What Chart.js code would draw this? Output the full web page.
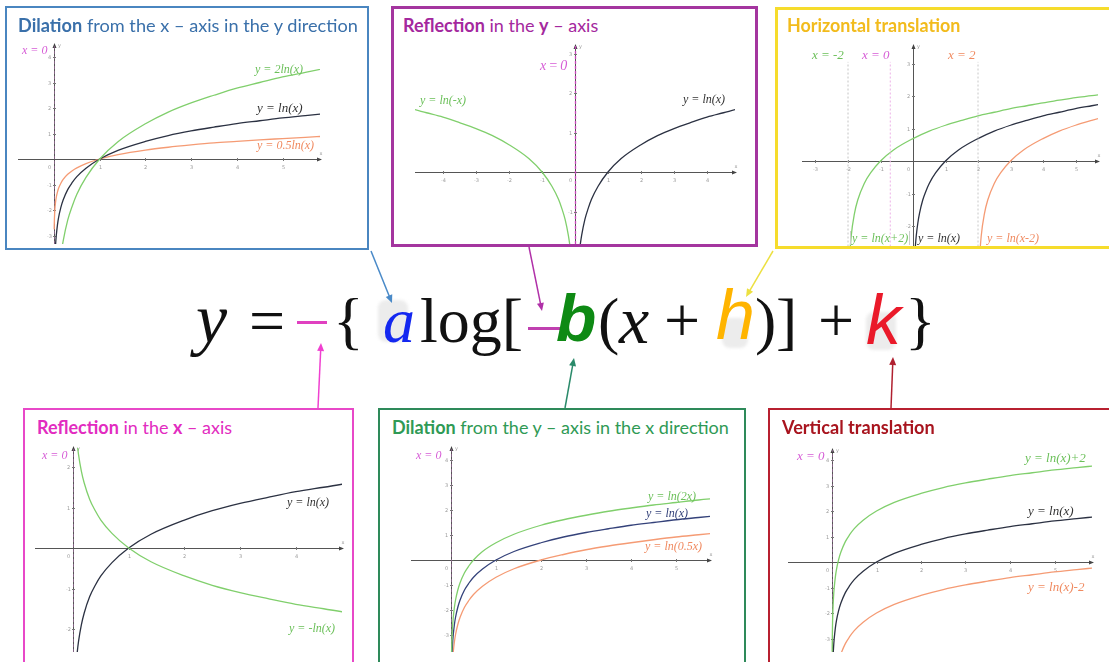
<!DOCTYPE html>
<html>
<head>
<meta charset="utf-8">
<script src="https://cdn.jsdelivr.net/npm/chart.js@4.4.1/dist/chart.umd.min.js"></script>
<style>
  body { margin: 0; background: #fff; }
  #page { position: relative; width: 1109px; height: 662px; overflow: hidden; font-family: Lato, "Open Sans", sans-serif; }
  .panel { position: absolute; box-sizing: border-box; border: 2px solid; background: #fff; }
  .title { position: absolute; font-size: 18px; white-space: nowrap; line-height: 1; transform-origin: left center; }
  .title b { font-weight: 700; }
  canvas.plot { position: absolute; }
  .lbl { position: absolute; font-family: "Liberation Serif", serif; font-style: italic; white-space: nowrap; line-height: 1; transform: translateY(-50%); }
  .eq { position: absolute; font-family: "Liberation Serif", serif; font-size: 64px; line-height: 1; color: #111; }
  .smudge { position: absolute; background: #ececec; border-radius: 8px; filter: blur(1.5px); }
  .bar { position: absolute; height: 3px; }
  svg#links { position: absolute; left: 0; top: 0; pointer-events: none; }
</style>
</head>
<body>
<div id="page"></div>
<script>
// ---- curve samples ----
// x positions (x > 0) used for the ln(x) family
const LN_X = [0.004, 0.006, 0.01, 0.02, 0.035, 0.05, 0.075, 0.1, 0.15, 0.2, 0.3, 0.4, 0.5, 0.7, 1, 1.4, 2, 2.5, 3, 3.5, 4, 4.5, 5, 5.5, 6];
const LN_Y = [-5.52, -5.12, -4.61, -3.91, -3.35, -3.00, -2.59, -2.30, -1.90, -1.61, -1.20, -0.92, -0.69, -0.36, 0, 0.34, 0.69, 0.92, 1.10, 1.25, 1.39, 1.50, 1.61, 1.70, 1.79];
const TWO_LN_Y = [-11.04, -10.24, -9.22, -7.82, -6.70, -6.00, -5.18, -4.60, -3.80, -3.22, -2.40, -1.84, -1.38, -0.72, 0, 0.68, 1.38, 1.84, 2.20, 2.50, 2.78, 3.00, 3.22, 3.40, 3.58];
const HALF_LN_Y = [-2.76, -2.56, -2.30, -1.96, -1.68, -1.50, -1.30, -1.15, -0.95, -0.80, -0.60, -0.46, -0.35, -0.18, 0, 0.17, 0.35, 0.46, 0.55, 0.63, 0.69, 0.75, 0.80, 0.85, 0.90];
const NEG_LN_Y = [5.52, 5.12, 4.61, 3.91, 3.35, 3.00, 2.59, 2.30, 1.90, 1.61, 1.20, 0.92, 0.69, 0.36, 0, -0.34, -0.69, -0.92, -1.10, -1.25, -1.39, -1.50, -1.61, -1.70, -1.79];
const LN_2X_Y = [-4.83, -4.43, -3.92, -3.22, -2.66, -2.31, -1.90, -1.61, -1.21, -0.92, -0.51, -0.23, 0, 0.34, 0.69, 1.03, 1.39, 1.61, 1.79, 1.95, 2.08, 2.20, 2.30, 2.40, 2.48];
const LN_HALF_X_Y = [-6.21, -5.81, -5.30, -4.60, -4.04, -3.69, -3.28, -2.99, -2.59, -2.30, -1.89, -1.61, -1.38, -1.05, -0.69, -0.35, 0, 0.22, 0.41, 0.56, 0.69, 0.81, 0.92, 1.01, 1.10];
const LN_UP2_Y = [-3.52, -3.12, -2.61, -1.91, -1.35, -1.00, -0.59, -0.30, 0.10, 0.39, 0.80, 1.08, 1.31, 1.64, 2, 2.34, 2.69, 2.92, 3.10, 3.25, 3.39, 3.50, 3.61, 3.70, 3.79];
const LN_DOWN2_Y = [-7.52, -7.12, -6.61, -5.91, -5.35, -5.00, -4.59, -4.30, -3.90, -3.61, -3.20, -2.92, -2.69, -2.36, -2, -1.66, -1.31, -1.08, -0.90, -0.75, -0.61, -0.50, -0.39, -0.30, -0.21];

// ln(-x), x < 0
const MIRROR_X = [-6, -5.5, -5, -4.5, -4, -3.5, -3, -2.5, -2, -1.4, -1, -0.7, -0.5, -0.4, -0.3, -0.2, -0.15, -0.1, -0.075, -0.05, -0.035, -0.02, -0.01, -0.006, -0.004];
const MIRROR_Y = [1.79, 1.70, 1.61, 1.50, 1.39, 1.25, 1.10, 0.92, 0.69, 0.34, 0, -0.36, -0.69, -0.92, -1.20, -1.61, -1.90, -2.30, -2.59, -3.00, -3.35, -3.91, -4.61, -5.12, -5.52];

// ln(x+2) and ln(x-2)
const SHIFT_L_X = [-1.98, -1.95, -1.9, -1.8, -1.7, -1.5, -1.3, -1, -0.6, 0, 0.5, 1, 1.5, 2, 2.5, 3, 3.5, 4, 4.5, 5, 5.5, 6];
const SHIFT_L_Y = [-3.91, -3.00, -2.30, -1.61, -1.20, -0.69, -0.36, 0, 0.34, 0.69, 0.92, 1.10, 1.25, 1.39, 1.50, 1.61, 1.70, 1.79, 1.87, 1.95, 2.01, 2.08];
const SHIFT_R_X = [2.02, 2.05, 2.1, 2.2, 2.3, 2.5, 2.7, 3, 3.4, 4, 4.5, 5, 5.5, 6];
const SHIFT_R_Y = [-3.91, -3.00, -2.30, -1.61, -1.20, -0.69, -0.36, 0, 0.34, 0.69, 0.92, 1.10, 1.25, 1.39];

// dotted guides in the horizontal translation plot
const GUIDE_X = [-2, -0.7, 2];
const GUIDE_Y = [-3, 3.05];

// axis tick labels
const P1_XTICKS = [1, 2, 3, 4, 5], P1_YTICKS = [-3, -2, -1, 1, 2, 3, 4];
const P2_XTICKS = [-4, -3, -2, -1, 1, 2, 3, 4], P2_YTICKS = [-1, 1, 2, 3];
const P3_XTICKS = [-3, -2, -1, 1, 2, 3, 4, 5], P3_YTICKS = [-2, -1, 1, 2, 3];
const P4_XTICKS = [1, 2, 3, 4], P4_YTICKS = [-2, -1, 1, 2];
const P5_XTICKS = [1, 2, 3, 4, 5], P5_YTICKS = [-3, -2, -1, 1, 2, 3, 4];
const P6_XTICKS = [1, 2, 3, 4, 5], P6_YTICKS = [-3, -2, -1, 1, 2, 3, 4];

const GREEN = '#80cf6c', DARK = '#2b3142', ORANGE = '#f59b74', NAVY = '#34427a';
const PINK = '#d65cd6';

const page = document.getElementById('page');

// axes through the origin, with arrows and tiny tick labels
const axesPlugin = {
  id: 'axes',
  beforeDatasetsDraw(chart, args, opts) {
    const { ctx, chartArea: a, scales: { x, y } } = chart;
    const x0 = Math.round(x.getPixelForValue(0)) + 0.5;
    const y0 = Math.round(y.getPixelForValue(0)) + 0.5;
    ctx.save();
    ctx.lineWidth = 1;
    ctx.strokeStyle = '#555';
    ctx.fillStyle = '#444';
    ctx.beginPath();
    ctx.moveTo(a.left, y0); ctx.lineTo(a.right, y0);
    ctx.moveTo(x0, a.bottom); ctx.lineTo(x0, a.top);
    ctx.stroke();
    // arrow heads
    ctx.beginPath();
    ctx.moveTo(a.right + 2, y0); ctx.lineTo(a.right - 3, y0 - 2); ctx.lineTo(a.right - 3, y0 + 2); ctx.closePath();
    ctx.moveTo(x0, a.top - 2); ctx.lineTo(x0 - 2, a.top + 3); ctx.lineTo(x0 + 2, a.top + 3); ctx.closePath();
    ctx.fill();
    if (opts.dash) {
      ctx.strokeStyle = opts.dash;
      ctx.setLineDash([3, 2]);
      ctx.lineWidth = opts.dashWidth || 1;
      ctx.beginPath();
      ctx.moveTo(x0, a.bottom); ctx.lineTo(x0, a.top);
      ctx.stroke();
      ctx.setLineDash([]);
    }
    ctx.strokeStyle = '#777';
    ctx.lineWidth = 1;
    ctx.fillStyle = '#9a9a9a';
    ctx.font = '5px "DejaVu Sans"';
    ctx.textAlign = 'center';
    ctx.textBaseline = 'middle';
    ctx.beginPath();
    opts.xTicks.forEach(v => {
      const px = Math.round(x.getPixelForValue(v)) + 0.5;
      ctx.moveTo(px, y0 - 1.5); ctx.lineTo(px, y0 + 1.5);
      ctx.fillText(String(v), px, y0 + 8);
    });
    opts.yTicks.forEach(v => {
      const py = Math.round(y.getPixelForValue(v)) + 0.5;
      ctx.moveTo(x0 - 1.5, py); ctx.lineTo(x0 + 1.5, py);
      ctx.fillText(String(v), x0 - 5, py);
    });
    ctx.stroke();
    ctx.fillText('0', x0 - 5, y0 + 8);
    ctx.fillText('x', a.right + 1, y0 - 6);
    ctx.fillText('y', x0 + 5, a.top + 1);
    ctx.restore();
  }
};

function addPanel(p) {
  const box = document.createElement('div');
  box.className = 'panel';
  Object.assign(box.style, { left: p.box[0] + 'px', top: p.box[1] + 'px', width: (p.box[2] - p.box[0]) + 'px', height: (p.box[3] - p.box[1]) + 'px', borderColor: p.border, borderWidth: (p.bw || 2) + 'px' });
  page.appendChild(box);

  const t = document.createElement('div');
  t.className = 'title';
  t.innerHTML = p.title;
  Object.assign(t.style, { left: p.titlePos[0] + 'px', top: p.titlePos[1] + 'px', color: p.titleColor });
  page.appendChild(t);
  const tw = t.offsetWidth;
  t.style.transform = 'scaleX(' + (p.titlePos[2] / tw) + ')';

  const pad = 10;
  const [left, top, right, bottom] = p.area;
  const canvas = document.createElement('canvas');
  canvas.className = 'plot';
  canvas.width = right - left + 2 * pad;
  canvas.height = bottom - top + 2 * pad;
  canvas.style.left = (left - pad) + 'px';
  canvas.style.top = (top - pad) + 'px';
  page.appendChild(canvas);

  const [ox, oy, ux, uy] = p.origin;
  new Chart(canvas, {
    type: 'scatter',
    data: {
      datasets: p.series.map(s => ({
        data: s.x.map((v, i) => ({ x: v, y: s.y[i] })),
        showLine: true,
        borderColor: s.color,
        borderWidth: s.width || 1.3,
        borderDash: s.dash || [],
        pointRadius: 0,
        fill: false,
        tension: 0,
        cubicInterpolationMode: s.straight ? 'default' : 'monotone'
      }))
    },
    options: {
      responsive: false,
      animation: false,
      events: [],
      layout: { padding: pad },
      plugins: {
        legend: { display: false },
        tooltip: { enabled: false },
        axes: { xTicks: p.xTicks, yTicks: p.yTicks, dash: p.dash, dashWidth: p.dashWidth }
      },
      scales: {
        x: { type: 'linear', display: false, min: (left - ox) / ux, max: (right - ox) / ux },
        y: { type: 'linear', display: false, min: (oy - bottom) / uy, max: (oy - top) / uy }
      }
    },
    plugins: [axesPlugin]
  });

  p.labels.forEach(l => {
    const d = document.createElement('div');
    d.className = 'lbl';
    d.textContent = l.text;
    Object.assign(d.style, { left: l.x + 'px', top: l.y + 'px', color: l.color, fontSize: l.size + 'px' });
    if (l.css) Object.assign(d.style, l.css);
    page.appendChild(d);
  });
}

const guideSeries = GUIDE_X.map((g, i) => ({
  x: [g, g], y: GUIDE_Y, color: ['#c4c4c4', '#ecb0e6', '#c8c8c8'][i], width: 1, dash: [2, 2], straight: true
}));

const panels = [
  {
    box: [5, 6, 369, 250], border: '#4a86c0', titleColor: '#3a70aa',
    title: '<b>Dilation</b> from the x – axis in the y direction', titlePos: [18, 16, 340],
    area: [18, 45, 320, 244], origin: [54, 159, 45.7, 25.5],
    xTicks: P1_XTICKS, yTicks: P1_YTICKS, dash: 'rgba(170,110,170,0.55)',
    series: [
      { x: LN_X, y: TWO_LN_Y, color: GREEN },
      { x: LN_X, y: LN_Y, color: DARK },
      { x: LN_X, y: HALF_LN_Y, color: ORANGE }
    ],
    labels: [
      { text: 'x = 0', x: 22, y: 50, color: PINK, size: 12 },
      { text: 'y = 2ln(x)', x: 255, y: 69, color: '#6cc05a', size: 12 },
      { text: 'y = ln(x)', x: 257, y: 107, color: '#333', size: 13 },
      { text: 'y = 0.5ln(x)', x: 257, y: 145, color: '#f08a60', size: 12 }
    ]
  },
  {
    box: [391, 6, 758, 247], border: '#a4359f', bw: 3, titleColor: '#a4289e',
    title: '<b>Reflection</b> in the <b>y</b> – axis', titlePos: [403, 16, 195],
    area: [415, 46, 735, 244], origin: [575, 172, 33, 39.5],
    xTicks: P2_XTICKS, yTicks: P2_YTICKS, dash: '#c544b8', dashWidth: 1.3,
    series: [
      { x: MIRROR_X, y: MIRROR_Y, color: GREEN },
      { x: LN_X, y: LN_Y, color: DARK }
    ],
    labels: [
      { text: 'x = 0', x: 540, y: 66, color: PINK, size: 14, css: { letterSpacing: '-0.6px' } },
      { text: 'y = ln(-x)', x: 420, y: 100, color: '#6cc05a', size: 12 },
      { text: 'y = ln(x)', x: 683, y: 99, color: '#333', size: 12 }
    ]
  },
  {
    box: [775, 7, 1115, 249], border: '#f6dc2c', bw: 3, titleColor: '#f2bb1c',
    title: '<b>Horizontal translation</b>', titlePos: [787, 16, 173],
    area: [802, 46, 1098, 246], origin: [913, 161, 32.5, 32.5],
    xTicks: P3_XTICKS, yTicks: P3_YTICKS, dash: null,
    series: guideSeries.concat([
      { x: SHIFT_L_X, y: SHIFT_L_Y, color: GREEN },
      { x: LN_X, y: LN_Y, color: DARK },
      { x: SHIFT_R_X, y: SHIFT_R_Y, color: ORANGE }
    ]),
    labels: [
      { text: 'x = -2', x: 812, y: 54, color: '#6cc05a', size: 13 },
      { text: 'x = 0', x: 862, y: 54, color: PINK, size: 13 },
      { text: 'x = 2', x: 948, y: 54, color: '#f08a60', size: 13 },
      { text: 'y = ln(x+2)', x: 850, y: 238, color: '#6cc05a', size: 12, css: { borderLeft: '1px solid #ccc', borderRight: '1px solid #ccc', padding: '1px 1px' } },
      { text: 'y = ln(x)', x: 918, y: 238, color: '#333', size: 12 },
      { text: 'y = ln(x-2)', x: 987, y: 238, color: '#f08a60', size: 12 }
    ]
  },
  {
    box: [23, 408, 354, 666], border: '#e848c8', titleColor: '#e22cc0',
    title: '<b>Reflection</b> in the <b>x</b> – axis', titlePos: [37, 418, 195],
    area: [35, 448, 342, 652], origin: [73, 548, 55.7, 40.5],
    xTicks: P4_XTICKS, yTicks: P4_YTICKS, dash: 'rgba(170,110,170,0.55)',
    series: [
      { x: LN_X, y: NEG_LN_Y, color: GREEN },
      { x: LN_X, y: LN_Y, color: DARK }
    ],
    labels: [
      { text: 'x = 0', x: 42, y: 455, color: PINK, size: 12 },
      { text: 'y = ln(x)', x: 287, y: 502, color: '#333', size: 12 },
      { text: 'y = -ln(x)', x: 289, y: 628, color: '#6cc05a', size: 12 }
    ]
  },
  {
    box: [378, 408, 746, 666], border: '#2e8a5a', titleColor: '#2f9a55',
    title: '<b>Dilation</b> from the y – axis in the x direction', titlePos: [392, 418, 337],
    area: [411, 448, 710, 652], origin: [451, 560, 45, 25],
    xTicks: P5_XTICKS, yTicks: P5_YTICKS, dash: 'rgba(170,110,170,0.55)',
    series: [
      { x: LN_X, y: LN_2X_Y, color: GREEN },
      { x: LN_X, y: LN_Y, color: NAVY },
      { x: LN_X, y: LN_HALF_X_Y, color: ORANGE }
    ],
    labels: [
      { text: 'x = 0', x: 416, y: 455, color: PINK, size: 12 },
      { text: 'y = ln(2x)', x: 648, y: 496, color: '#6cc05a', size: 12 },
      { text: 'y = ln(x)', x: 646, y: 513, color: NAVY, size: 12 },
      { text: 'y = ln(0.5x)', x: 645, y: 546, color: '#f08a60', size: 12 }
    ]
  },
  {
    box: [768, 408, 1115, 666], border: '#b82030', titleColor: '#a8141e',
    title: '<b>Vertical translation</b>', titlePos: [782, 418, 153],
    area: [788, 450, 1092, 652], origin: [832, 562, 44.5, 25.5],
    xTicks: P6_XTICKS, yTicks: P6_YTICKS, dash: 'rgba(170,110,170,0.55)',
    series: [
      { x: LN_X, y: LN_UP2_Y, color: GREEN },
      { x: LN_X, y: LN_Y, color: DARK },
      { x: LN_X, y: LN_DOWN2_Y, color: ORANGE }
    ],
    labels: [
      { text: 'x = 0', x: 797, y: 455, color: PINK, size: 13 },
      { text: 'y = ln(x)+2', x: 1025, y: 457, color: '#6cc05a', size: 13 },
      { text: 'y = ln(x)', x: 1028, y: 510, color: '#333', size: 13 },
      { text: 'y = ln(x)-2', x: 1028, y: 586, color: '#f08a60', size: 13 }
    ]
  }
];

panels.forEach(addPanel);

// ---- the general form y = -{a log[-b(x + h)] + k} ----
function piece(text, left, opts) {
  const s = document.createElement('div');
  s.className = 'eq';
  s.textContent = text;
  s.style.left = left + 'px';
  s.style.top = '289px';
  if (opts) Object.assign(s.style, opts);
  page.appendChild(s);
  return s;
}
function smudge(l, t, w, h) {
  const d = document.createElement('div');
  d.className = 'smudge';
  Object.assign(d.style, { left: l + 'px', top: t + 'px', width: w + 'px', height: h + 'px' });
  page.appendChild(d);
}
function bar(l, t, w, color) {
  const d = document.createElement('div');
  d.className = 'bar';
  Object.assign(d.style, { left: l + 'px', top: t + 'px', width: w + 'px', background: color });
  page.appendChild(d);
}
smudge(378, 300, 30, 42);
smudge(722, 318, 26, 30);
smudge(866, 312, 30, 38);

piece('y', 196, { fontStyle: 'italic', fontSize: '70px', top: '284px' });
piece('=', 249);
bar(297, 321, 30, '#e040c0');
piece('{', 333);
piece('a', 383, { fontStyle: 'italic', color: '#1428f0', fontSize: '64px', top: '289px' });
piece('log[', 420);
bar(528, 327, 32, '#c040b0');
piece('b', 556, { fontFamily: '"Liberation Sans", sans-serif', fontStyle: 'italic', fontWeight: '700', color: '#0e8a14', fontSize: '66px', top: '285px' });
piece('(', 598);
piece('x', 619, { fontStyle: 'italic', fontSize: '68px', top: '286px' });
piece('+', 664);
piece('h', 716, { fontFamily: '"Liberation Sans", sans-serif', fontStyle: 'italic', color: '#ffb400', fontSize: '70px', top: '280px' });
piece(')', 755);
piece(']', 776);
piece('+', 818);
piece('k', 866, { fontFamily: '"Liberation Sans", sans-serif', fontStyle: 'italic', color: '#ea1a2a', fontSize: '70px', top: '285px' });
piece('}', 905);

// pointers from each panel to its parameter
const links = [
  { from: [371, 251], to: [392, 303], color: '#4a8ac8' },
  { from: [529, 247], to: [542, 311], color: '#b030a8' },
  { from: [773, 251], to: [746, 297], color: '#ece040' },
  { from: [318, 408], to: [321, 343], color: '#f040d0' },
  { from: [565, 408], to: [574, 358], color: '#2a8a6a' },
  { from: [891, 408], to: [893, 357], color: '#b02030' }
];
const NS = 'http://www.w3.org/2000/svg';
const svg = document.createElementNS(NS, 'svg');
svg.id = 'links';
svg.setAttribute('width', 1109);
svg.setAttribute('height', 662);
links.forEach(k => {
  const [x1, y1] = k.from, [x2, y2] = k.to;
  const ang = Math.atan2(y2 - y1, x2 - x1);
  const line = document.createElementNS(NS, 'line');
  line.setAttribute('x1', x1); line.setAttribute('y1', y1);
  line.setAttribute('x2', x2 - 4 * Math.cos(ang)); line.setAttribute('y2', y2 - 4 * Math.sin(ang));
  line.setAttribute('stroke', k.color); line.setAttribute('stroke-width', 1.5);
  svg.appendChild(line);
  const hl = 8, hw = 3.5;
  const bx = x2 - hl * Math.cos(ang), by = y2 - hl * Math.sin(ang);
  const head = document.createElementNS(NS, 'polygon');
  head.setAttribute('points', [
    x2 + ',' + y2,
    (bx - hw * Math.sin(ang)) + ',' + (by + hw * Math.cos(ang)),
    (bx + hw * Math.sin(ang)) + ',' + (by - hw * Math.cos(ang))
  ].join(' '));
  head.setAttribute('fill', k.color);
  svg.appendChild(head);
});
page.appendChild(svg);
</script>
</body>
</html>
